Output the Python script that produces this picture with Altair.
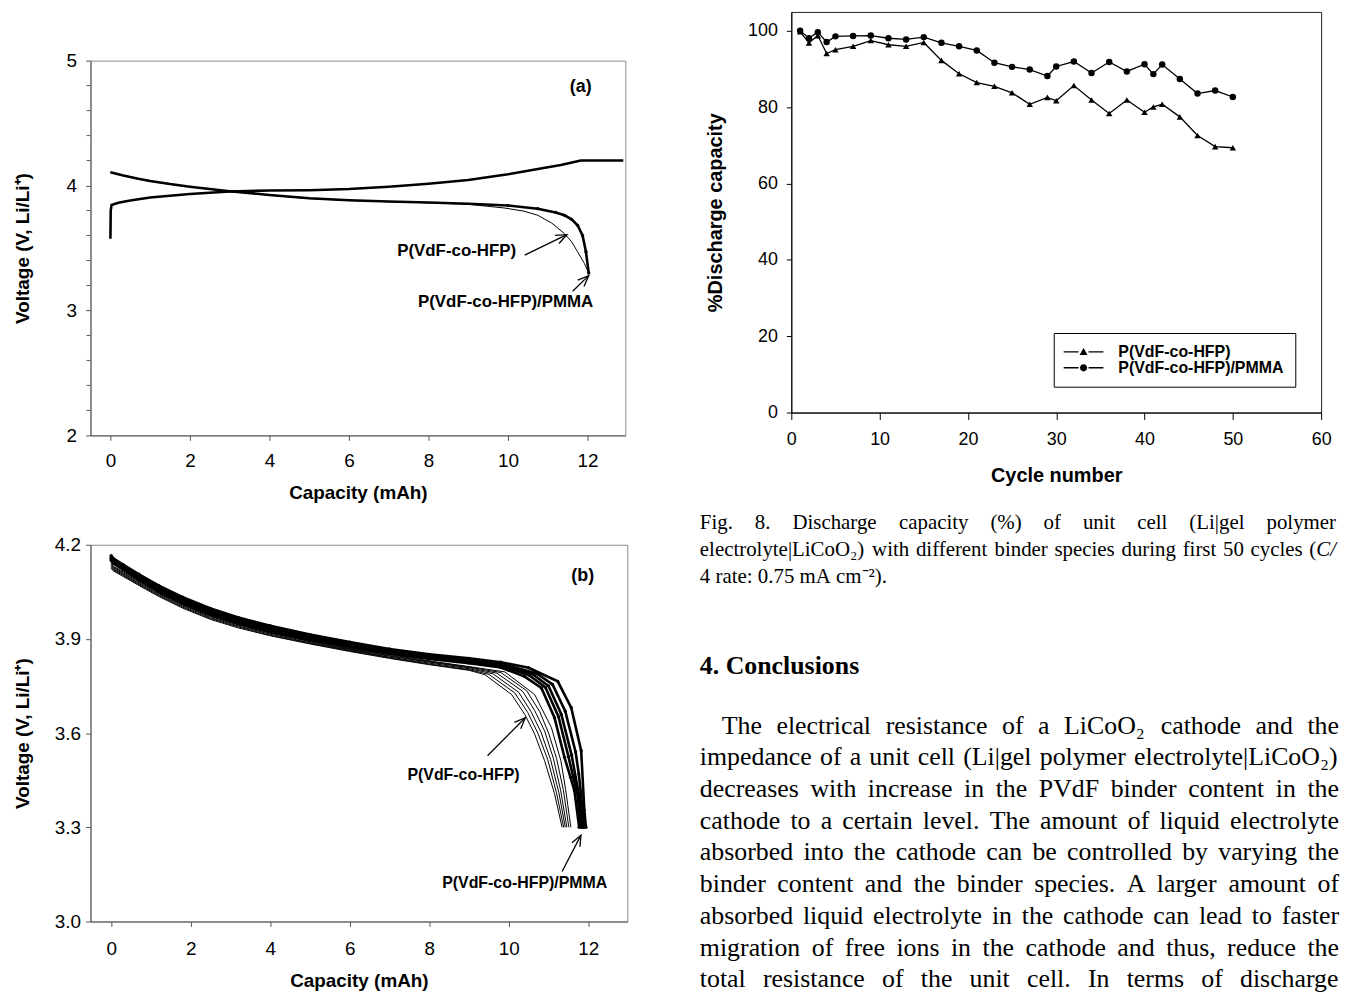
import math
import altair as alt
import pandas as pd

SANS = "Liberation Sans"
SERIF = "Liberation Serif"

# ---------------------------------------------------------------- panel (a)
A_CHG_CAP = [0, 0.004, 0.008, 0.03, 0.2, 0.5, 1, 2, 3, 4, 5, 6, 7, 8, 9, 10, 10.75, 11.33, 11.83, 12.3, 12.9]
A_CHG_V = [3.575, 3.66, 3.80, 3.845, 3.862, 3.88, 3.905, 3.932, 3.953, 3.96, 3.963, 3.972, 3.99, 4.015, 4.045,
           4.09, 4.133, 4.165, 4.2, 4.2, 4.2]
A_PMMA_CAP = [0, 0.3, 0.7, 1, 1.5, 2, 2.5, 3, 4, 5, 6, 7, 8, 9, 10, 10.75, 11.2, 11.42, 11.6, 11.75, 11.875,
              11.96, 12.03]
A_PMMA_V = [4.107, 4.082, 4.055, 4.037, 4.012, 3.991, 3.972, 3.955, 3.925, 3.898, 3.882, 3.873, 3.865, 3.855,
            3.84, 3.815, 3.785, 3.762, 3.73, 3.682, 3.60, 3.47, 3.30]
A_HFP_CAP = [0, 0.3, 0.7, 1, 1.5, 2, 2.5, 3, 4, 5, 6, 7, 8, 9, 9.92, 10.4, 10.75, 11.1, 11.42, 11.6, 11.75,
             11.92, 12.03]
A_HFP_V = [4.105, 4.08, 4.053, 4.035, 4.01, 3.989, 3.97, 3.953, 3.923, 3.896, 3.88, 3.871, 3.862, 3.85, 3.82,
           3.795, 3.762, 3.70, 3.615, 3.55, 3.47, 3.377, 3.30]
A_LABELS = ["P(VdF-co-HFP)", "P(VdF-co-HFP)/PMMA"]
A_LABEL_X = [8.71, 9.94]
A_LABEL_Y = [3.472, 3.07]
A_ARROW_X = [10.42, 11.625]
A_ARROW_Y = [3.443, 3.154]
A_ARROW_X2 = [11.48, 12.03]
A_ARROW_Y2 = [3.607, 3.279]
A_PANEL = ["(a)"]
A_PANEL_X = [11.83]
A_PANEL_Y = [4.786]
A_XTICKS = [0, 2, 4, 6, 8, 10, 12]
A_YTICKS = [2, 3, 4, 5]
A_YMINOR = [2.2, 2.4, 2.6, 2.8, 3.2, 3.4, 3.6, 3.8, 4.2, 4.4, 4.6, 4.8]

# ---------------------------------------------------------------- panel (b)
B_THIN_CAP = [
    [0, 0.05, 0.3, 0.7, 1.2, 1.8, 2.5, 3.2, 4, 5, 6, 7, 8, 9, 9.4, 10.07, 10.4, 10.65, 10.9, 11.15, 11.34],
    [0, 0.05, 0.3, 0.7, 1.2, 1.8, 2.5, 3.2, 4, 5, 6, 7, 8, 9, 9.5, 10.15, 10.48, 10.73, 10.98, 11.2, 11.38],
    [0, 0.05, 0.3, 0.7, 1.2, 1.8, 2.5, 3.2, 4, 5, 6, 7, 8, 9, 9.6, 10.25, 10.56, 10.81, 11.05, 11.26, 11.42],
    [0, 0.05, 0.3, 0.7, 1.2, 1.8, 2.5, 3.2, 4, 5, 6, 7, 8, 9, 9.7, 10.35, 10.65, 10.9, 11.12, 11.3, 11.46],
    [0, 0.05, 0.3, 0.7, 1.2, 1.8, 2.5, 3.2, 4, 5, 6, 7, 8, 9, 9.8, 10.45, 10.78, 11.0, 11.2, 11.37, 11.51],
    [0, 0.05, 0.3, 0.7, 1.2, 1.8, 2.5, 3.2, 4, 5, 6, 7, 8, 9, 9.9, 10.65, 11.07, 11.31, 11.43, 11.56],
]
B_THIN_V = [
    [4.125, 4.117, 4.099, 4.07, 4.035, 3.998, 3.962, 3.935, 3.91, 3.884, 3.86, 3.838, 3.818, 3.80,
     3.786, 3.723, 3.66, 3.597, 3.512, 3.407, 3.30],
    [4.128, 4.12, 4.102, 4.073, 4.038, 4.001, 3.965, 3.938, 3.912, 3.886, 3.862, 3.84, 3.82, 3.802,
     3.787, 3.728, 3.665, 3.60, 3.515, 3.41, 3.30],
    [4.131, 4.123, 4.105, 4.076, 4.041, 4.004, 3.968, 3.941, 3.915, 3.888, 3.864, 3.842, 3.823, 3.805,
     3.789, 3.73, 3.668, 3.603, 3.516, 3.41, 3.30],
    [4.134, 4.126, 4.108, 4.079, 4.044, 4.007, 3.971, 3.944, 3.918, 3.891, 3.866, 3.845, 3.826, 3.808,
     3.791, 3.733, 3.672, 3.607, 3.52, 3.42, 3.30],
    [4.137, 4.129, 4.111, 4.082, 4.047, 4.01, 3.974, 3.947, 3.921, 3.893, 3.868, 3.847, 3.828, 3.81,
     3.793, 3.735, 3.668, 3.60, 3.52, 3.42, 3.30],
    [4.14, 4.132, 4.114, 4.085, 4.05, 4.013, 3.977, 3.95, 3.924, 3.896, 3.87, 3.85, 3.83, 3.812,
     3.795, 3.723, 3.618, 3.512, 3.42, 3.30],
]
B_THICK_CAP = [
    [0, 0.05, 0.3, 0.7, 1.2, 1.8, 2.5, 3.2, 4, 5, 6, 7, 8, 9, 9.8, 10.4, 10.82, 11.15, 11.4, 11.55, 11.65, 11.77],
    [0, 0.05, 0.3, 0.7, 1.2, 1.8, 2.5, 3.2, 4, 5, 6, 7, 8, 9, 9.8, 10.5, 10.92, 11.25, 11.5, 11.62, 11.72, 11.82],
    [0, 0.05, 0.3, 0.7, 1.2, 1.8, 2.5, 3.2, 4, 5, 6, 7, 8, 9, 9.8, 10.6, 11.0, 11.32, 11.58, 11.68, 11.77, 11.86],
    [0, 0.05, 0.3, 0.7, 1.2, 1.8, 2.5, 3.2, 4, 5, 6, 7, 8, 9, 9.8, 10.7, 11.1, 11.42, 11.68, 11.76, 11.82, 11.90],
    [0, 0.05, 0.3, 0.7, 1.2, 1.8, 2.5, 3.2, 4, 5, 6, 7, 8, 9, 9.8, 10.5, 11.23, 11.57, 11.82, 11.9, 11.94],
]
B_THICK_V = [
    [4.15, 4.141, 4.121, 4.089, 4.051, 4.013, 3.977, 3.948, 3.922, 3.897, 3.874, 3.853, 3.836, 3.823, 3.809,
     3.78, 3.744, 3.649, 3.523, 3.46, 3.417, 3.30],
    [4.153, 4.145, 4.125, 4.093, 4.056, 4.018, 3.982, 3.953, 3.927, 3.902, 3.878, 3.857, 3.84, 3.827, 3.813,
     3.785, 3.746, 3.652, 3.525, 3.46, 3.41, 3.30],
    [4.157, 4.149, 4.129, 4.098, 4.061, 4.023, 3.987, 3.958, 3.932, 3.906, 3.882, 3.861, 3.844, 3.831, 3.817,
     3.788, 3.75, 3.66, 3.53, 3.46, 3.40, 3.30],
    [4.161, 4.153, 4.133, 4.102, 4.066, 4.028, 3.992, 3.963, 3.937, 3.91, 3.886, 3.864, 3.847, 3.834, 3.821,
     3.79, 3.755, 3.67, 3.54, 3.47, 3.40, 3.30],
    [4.165, 4.157, 4.137, 4.106, 4.07, 4.033, 3.997, 3.968, 3.942, 3.914, 3.89, 3.868, 3.851, 3.838, 3.826,
     3.808, 3.765, 3.681, 3.544, 3.354, 3.30],
]
B_LABELS = ["P(VdF-co-HFP)", "P(VdF-co-HFP)/PMMA"]
B_LABEL_X = [8.86, 10.4]
B_LABEL_Y = [3.465, 3.124]
B_ARROW_X = [9.465, 11.34]
B_ARROW_Y = [3.528, 3.159]
B_ARROW_X2 = [10.415, 11.815]
B_ARROW_Y2 = [3.649, 3.275]
B_PANEL = ["(b)"]
B_PANEL_X = [11.86]
B_PANEL_Y = [4.099]
B_XTICKS = [0, 2, 4, 6, 8, 10, 12]
B_YTICKS = [3.0, 3.3, 3.6, 3.9, 4.2]

# ---------------------------------------------------------------- Fig. 8
F_CYCLES = [1, 2, 3, 4, 5, 7, 9, 11, 13, 15, 17, 19, 21, 23, 25, 27, 29, 30, 32, 34, 36, 38, 40, 41, 42,
            44, 46, 48, 50]
F_HFP = [99.8, 96.9, 98.8, 94.1, 95.1, 96.0, 97.5, 96.4, 96.0, 97.0, 92.3, 88.8, 86.5, 85.5, 83.8, 80.8,
         82.6, 81.7, 85.7, 81.9, 78.4, 81.9, 78.7, 80.1, 80.8, 77.5, 72.6, 69.7, 69.4]
F_PMMA = [100.1, 98.1, 99.7, 97.1, 98.6, 98.7, 98.8, 98.1, 97.8, 98.4, 96.9, 96.0, 94.9, 91.7, 90.6, 89.9,
          88.2, 90.7, 92.0, 89.0, 91.9, 89.4, 91.3, 88.7, 91.2, 87.4, 83.6, 84.4, 82.7]
F_SERIES = ["P(VdF-co-HFP)", "P(VdF-co-HFP)/PMMA"]
F_XTICKS = [0, 10, 20, 30, 40, 50, 60]
F_YTICKS = [0, 20, 40, 60, 80, 100]

# ---------------------------------------------------------------- page text
CAPTION = [
    "Fig. 8. Discharge capacity (%) of unit cell (Li|gel polymer",
    "electrolyte|LiCoO₂) with different binder species during first 50 cycles (_C/",
    "4 rate: 0.75 mA cm⁻²).",
]
HEADING = "4.  Conclusions"
BODY = [
    "The electrical resistance of a LiCoO₂ cathode and the",
    "impedance of a unit cell (Li|gel polymer electrolyte|LiCoO₂)",
    "decreases with increase in the PVdF binder content in the",
    "cathode to a certain level. The amount of liquid electrolyte",
    "absorbed into the cathode can be controlled by varying the",
    "binder content and the binder species. A larger amount of",
    "absorbed liquid electrolyte in the cathode can lead to faster",
    "migration of free ions in the cathode and thus, reduce the",
    "total resistance of the unit cell. In terms of discharge",
]

# ================================================================ layout / style
A_W, A_H = 538, 377
A_XD, A_YD = [-0.5, 12.95], [2, 5]
B_W, B_H = 540, 379
B_XD, B_YD = [-0.52, 12.98], [3.0, 4.2]
F_W, F_H = 533, 403
F_XD, F_YD = [0, 60], [0, 105]
F_ORIGIN = (792, 12)  # page position of the Fig. 8 plot area

AXC = "#555555"
ARROW_PATH = "M-4.5,11L0,0L4.5,11"
LEG_TRI = "M-20,-0.7H-5V0.7H-20Z M5,-0.7H20V0.7H5Z M-4,3.2L0,-3.8L4,3.2Z"
LEG_CIRC = ("M-20,-0.7H-5V0.7H-20Z M5,-0.7H20V0.7H5Z "
            "M-3.6,0A3.6,3.6 0 1,1 3.6,0A3.6,3.6 0 1,1 -3.6,0Z")


def curve_frame(names, caps_list, volts_list):
    frames = []
    for name, caps, volts in zip(names, caps_list, volts_list):
        frames.append(pd.DataFrame({"cap": caps, "v": volts, "curve": name,
                                    "i": list(range(len(caps)))}))
    return pd.concat(frames, ignore_index=True)


def sans_axis(**kw):
    base = dict(grid=False, domainColor=AXC, tickColor=AXC, tickSize=5, labelFont=SANS, labelFontSize=19,
                labelColor="black", labelFlush=False, labelOverlap=False, titleFont=SANS, titleFontSize=19,
                titleFontWeight="bold", titleColor="black")
    base.update(kw)
    return alt.Axis(**base)


def voltage_panel(thick_df, thin_df, dot_df, lab, arr, panel, xd, yd, w, h, xaxis, yaxis, lab_fs,
                  minor=None):
    xs = alt.Scale(domain=xd, nice=False, zero=False)
    ys = alt.Scale(domain=yd, nice=False, zero=False)
    X = alt.X("cap:Q", scale=xs, axis=xaxis)
    Y = alt.Y("v:Q", scale=ys, axis=yaxis)
    Xn = alt.X("cap:Q", scale=xs)
    Yn = alt.Y("v:Q", scale=ys)
    thin = alt.Chart(thin_df).mark_line(color="black", strokeWidth=1.0).encode(
        x=X, y=Y, detail="curve:N", order="i:Q")
    thick = alt.Chart(thick_df).mark_line(color="black", strokeWidth=2.6).encode(
        x=Xn, y=Yn, detail="curve:N", order="i:Q")
    dots = alt.Chart(dot_df).mark_circle(color="black", size=11, opacity=1).encode(x=Xn, y=Yn)
    px_x = w / (xd[1] - xd[0])
    px_y = h / (yd[1] - yd[0])
    arr = arr.copy()
    arr["ang"] = [(math.degrees(math.atan2((b2 - b1) * px_x, (c2 - c1) * px_y))) % 360
                  for b1, c1, b2, c2 in zip(arr["cap"], arr["v"], arr["cap2"], arr["v2"])]
    shafts = alt.Chart(arr).mark_rule(color="black", strokeWidth=1.3).encode(
        x=Xn, y=Yn, x2="cap2:Q", y2="v2:Q")
    heads = alt.Chart(arr).mark_point(shape=ARROW_PATH, size=4, filled=False, color="black",
                                      strokeWidth=1.3, opacity=1).encode(
        x=alt.X("cap2:Q", scale=xs), y=alt.Y("v2:Q", scale=ys),
        angle=alt.Angle("ang:Q", scale=None))
    labels = alt.Chart(lab).mark_text(font=SANS, fontWeight="bold", fontSize=lab_fs, color="black",
                                      align="center", baseline="middle").encode(x=Xn, y=Yn, text="t:N")
    plabel = alt.Chart(panel).mark_text(font=SANS, fontWeight="bold", fontSize=18, color="black",
                                        align="center", baseline="middle").encode(x=Xn, y=Yn, text="t:N")
    layers = [thin, thick, dots, shafts, heads, labels, plabel]
    if minor is not None:
        mdf = pd.DataFrame({"v": minor})
        layers.append(alt.Chart(mdf).mark_rule(color=AXC, strokeWidth=1, xOffset=-4, x2Offset=0).encode(
            x=alt.datum(xd[0]), x2=alt.datum(xd[0]), y=Yn))
    return alt.layer(*layers).properties(
        width=w, height=h, view=alt.ViewBackground(stroke="#8a8a8a", strokeWidth=1))


# ---------------------------------------------------------------- panel (a) chart
a_thick = curve_frame(["charge", "pmma"], [A_CHG_CAP, A_PMMA_CAP], [A_CHG_V, A_PMMA_V])
a_thin = curve_frame(["hfp"], [A_HFP_CAP], [A_HFP_V])
a_dots = curve_frame(["pmma"], [A_PMMA_CAP[14:]], [A_PMMA_V[14:]])
a_lab = pd.DataFrame({"cap": A_LABEL_X, "v": A_LABEL_Y, "t": A_LABELS})
a_arr = pd.DataFrame({"cap": A_ARROW_X, "v": A_ARROW_Y, "cap2": A_ARROW_X2, "v2": A_ARROW_Y2})
a_pan = pd.DataFrame({"cap": A_PANEL_X, "v": A_PANEL_Y, "t": A_PANEL})
a_xaxis = sans_axis(values=A_XTICKS, format="d", title="Capacity (mAh)", labelPadding=11,
                    titlePadding=14, minExtent=34, maxExtent=34)
a_yaxis = sans_axis(values=A_YTICKS, format="d", title="Voltage (V, Li/Li⁺)", labelPadding=9,
                    titlePadding=13, minExtent=45, maxExtent=45)
chart_a = voltage_panel(a_thick, a_thin, a_dots, a_lab, a_arr, a_pan, A_XD, A_YD, A_W, A_H,
                        a_xaxis, a_yaxis, 17, minor=A_YMINOR)

# ---------------------------------------------------------------- panel (b) chart
b_thin = curve_frame([f"t{k}" for k in range(len(B_THIN_CAP))], B_THIN_CAP, B_THIN_V)
b_thick = curve_frame([f"k{k}" for k in range(len(B_THICK_CAP))], B_THICK_CAP, B_THICK_V)
b_lab = pd.DataFrame({"cap": B_LABEL_X, "v": B_LABEL_Y, "t": B_LABELS})
b_arr = pd.DataFrame({"cap": B_ARROW_X, "v": B_ARROW_Y, "cap2": B_ARROW_X2, "v2": B_ARROW_Y2})
b_pan = pd.DataFrame({"cap": B_PANEL_X, "v": B_PANEL_Y, "t": B_PANEL})
b_xaxis = sans_axis(values=B_XTICKS, format="d", title="Capacity (mAh)", labelPadding=13,
                    titlePadding=16, minExtent=34, maxExtent=34)
b_yaxis = sans_axis(values=B_YTICKS, format=".1f", title="Voltage (V, Li/Li⁺)", labelPadding=5,
                    titlePadding=13, minExtent=45, maxExtent=45)
chart_b = voltage_panel(b_thick, b_thin, b_thick, b_lab, b_arr, b_pan, B_XD, B_YD, B_W, B_H,
                        b_xaxis, b_yaxis, 16)

# spacer that sets the vertical offset of panel (a) against Fig. 8
spacer = alt.Chart(pd.DataFrame({"s": [0.5]})).mark_point(size=1, opacity=0).encode(
    x=alt.X("s:Q", axis=None, scale=alt.Scale(domain=[0, 1])),
    y=alt.Y("s:Q", axis=None, scale=alt.Scale(domain=[0, 1]))).properties(
    width=10, height=7, view=alt.ViewBackground(strokeWidth=0))

# ---------------------------------------------------------------- Fig. 8 chart
f_df = pd.concat([
    pd.DataFrame({"cycle": F_CYCLES, "pct": F_HFP, "series": F_SERIES[0]}),
    pd.DataFrame({"cycle": F_CYCLES, "pct": F_PMMA, "series": F_SERIES[1]}),
], ignore_index=True)
fxs = alt.Scale(domain=F_XD, nice=False, zero=False)
fys = alt.Scale(domain=F_YD, nice=False, zero=False)
f_xaxis = sans_axis(values=F_XTICKS, format="d", title="Cycle number", domainColor="black",
                    tickColor="black", tickSize=7, labelFontSize=18, labelPadding=11, titleFontSize=20,
                    titlePadding=14, minExtent=39, maxExtent=39)
f_yaxis = sans_axis(values=F_YTICKS, format="d", title="%Discharge capacity", domainColor="black",
                    tickColor="black", tickSize=5, labelFontSize=18, labelPadding=9, titleFontSize=20,
                    titlePadding=16, minExtent=50, maxExtent=50)
f_lines = alt.Chart(f_df).mark_line(color="black", strokeWidth=1.3).encode(
    x=alt.X("cycle:Q", scale=fxs, axis=f_xaxis), y=alt.Y("pct:Q", scale=fys, axis=f_yaxis),
    detail="series:N")
f_pts = alt.Chart(f_df).mark_point(filled=True, color="black", size=42, opacity=1).encode(
    x=alt.X("cycle:Q", scale=fxs), y=alt.Y("pct:Q", scale=fys),
    shape=alt.Shape("series:N", scale=alt.Scale(domain=F_SERIES, range=["triangle-up", "circle"]),
                    legend=None))
f_leg = alt.Chart(f_df).mark_point(filled=True, color="black", size=4, opacity=0).encode(
    x=alt.X("cycle:Q", scale=fxs), y=alt.Y("pct:Q", scale=fys),
    shape=alt.Shape("series:N", scale=alt.Scale(domain=F_SERIES, range=[LEG_TRI, LEG_CIRC]),
                    legend=alt.Legend(title=None, orient="none", legendX=264, legendY=323,
                                      symbolSize=4, symbolOpacity=1, symbolFillColor="black",
                                      symbolStrokeWidth=0, symbolOffset=11, labelOffset=27,
                                      labelFont=SANS, labelFontSize=16, labelFontWeight="bold",
                                      labelColor="black", labelLimit=400, strokeColor="black",
                                      fillColor="white", padding=11, rowPadding=-6)))
f_plot = alt.layer(f_lines, f_pts, f_leg).resolve_scale(shape="independent")

# ---------------------------------------------------------------- page text layout
TW = {" ": 250, ".": 250, ",": 250, ":": 278, ";": 278, "(": 333, ")": 333, "|": 200, "%": 833, "/": 278,
      "-": 333, "₂": 400, "⁻": 400, "²": 300,
      "a": 444, "b": 500, "c": 444, "d": 500, "e": 444, "f": 333, "g": 500, "h": 500, "i": 278, "j": 278,
      "k": 500, "l": 278, "m": 778, "n": 500, "o": 500, "p": 500, "q": 500, "r": 333, "s": 389, "t": 278,
      "u": 500, "v": 500, "w": 722, "x": 500, "y": 500, "z": 444,
      "A": 722, "B": 667, "C": 667, "D": 722, "E": 611, "F": 556, "G": 722, "H": 722, "I": 333, "L": 611,
      "M": 889, "N": 722, "O": 722, "P": 556, "R": 667, "S": 556, "T": 611, "V": 722, "W": 944}


def tw(s, fs):
    return fs * sum(TW.get(ch, 500) for ch in s) / 1000.0


def place_line(line, left, right, base, fs, justify, rows):
    words = line.split(" ")
    segs = []
    for w in words:
        parts = w.split("_")
        segs.append([(p, k % 2 == 1) for k, p in enumerate(parts)])
    widths = [sum(tw(p, fs) for p, _ in s) for s in segs]
    n = len(words)
    gap = (right - left - sum(widths)) / (n - 1) if (justify and n > 1) else 0.25 * fs
    x = left
    for s, wd in zip(segs, widths):
        sx = x
        for p, it in s:
            if p:
                rows.append({"x": sx - F_ORIGIN[0], "y": base - F_ORIGIN[1], "text": p, "fs": fs,
                             "italic": it})
            sx += tw(p, fs)
        x += wd + gap


rows = []
cap_base = [532, 559, 586]
for k, line in enumerate(CAPTION):
    place_line(line, 700, 1340, cap_base[k], 21, k < len(CAPTION) - 1, rows)
body_base = [738 + 31.9 * k for k in range(len(BODY))]
for k, line in enumerate(BODY):
    place_line(line, 722 if k == 0 else 700, 1343, body_base[k], 26, True, rows)
txt = pd.DataFrame(rows)
head = pd.DataFrame({"x": [700 - F_ORIGIN[0]], "y": [678 - F_ORIGIN[1]], "text": [HEADING]})

txs = alt.Scale(domain=[0, F_W], nice=False, zero=False)
tys = alt.Scale(domain=[0, F_H], nice=False, zero=False, reverse=True)
TX = alt.X("x:Q", scale=txs, axis=None)
TY = alt.Y("y:Q", scale=tys, axis=None)
t_norm = alt.Chart(txt[~txt["italic"]]).mark_text(font=SERIF, align="left", baseline="alphabetic",
                                                  color="black").encode(
    x=TX, y=TY, text="text:N", size=alt.Size("fs:Q", scale=None))
t_ital = alt.Chart(txt[txt["italic"]]).mark_text(font=SERIF, fontStyle="italic", align="left",
                                                 baseline="alphabetic", color="black").encode(
    x=TX, y=TY, text="text:N", size=alt.Size("fs:Q", scale=None))
t_head = alt.Chart(head).mark_text(font=SERIF, fontWeight="bold", fontSize=26, align="left",
                                   baseline="alphabetic", color="black").encode(x=TX, y=TY, text="text:N")
text_layer = alt.layer(t_norm, t_ital, t_head)

chart_f = alt.layer(f_plot, text_layer).resolve_scale(x="independent", y="independent").properties(
    width=F_W, height=F_H, view=alt.ViewBackground(stroke="#222222", strokeWidth=1))

left = alt.vconcat(spacer, chart_a, chart_b, spacing=32)
chart = alt.hconcat(left, chart_f, spacing=70).properties(
    padding={"left": 5, "top": 0, "right": 4, "bottom": 0}
).configure(font=SANS).configure_view(stroke="#8a8a8a")

chart.save("out.html", embed_options={"renderer": "svg", "actions": False})
